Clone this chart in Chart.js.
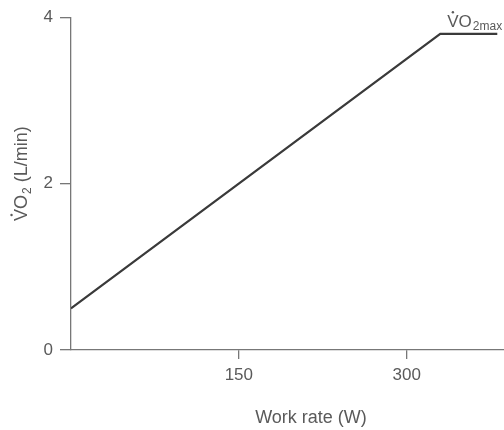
<!DOCTYPE html>
<html>
<head>
<meta charset="utf-8">
<script src="https://cdn.jsdelivr.net/npm/chart.js@4/dist/chart.umd.min.js"></script>
<style>
  html, body { margin: 0; padding: 0; background: #fff; }
  #wrap { width: 504px; height: 430px; }
</style>
</head>
<body>
<div id="wrap"><canvas id="chart"></canvas></div>
<script>
// work rate (W) vs oxygen uptake (L/min)
const workRate = [0, 330, 381];
const vo2 = [0.5, 3.8, 3.8];
const xTicks = [150, 300];
const yTicks = [0, 2, 4];

const FONT = '"Liberation Sans", Arial, Helvetica, sans-serif';
const TEXT = '#5a5a5a';
const AXIS = '#777';

// V with a dot over it, then a subscripted tail
function drawVdot(ctx, x, y, size, sub, subSize) {
    ctx.font = size + 'px ' + FONT;
    ctx.textAlign = 'left';
    ctx.textBaseline = 'alphabetic';
    const vw = ctx.measureText('V').width;
    ctx.fillText('VO', x, y);
    ctx.beginPath();
    ctx.arc(x + vw / 2, y - size * 0.86, 1.2, 0, Math.PI * 2);
    ctx.fill();
    const w = ctx.measureText('VO').width;
    ctx.font = subSize + 'px ' + FONT;
    ctx.fillText(sub, x + w + 1, y + subSize * 0.3);
    return w + 1 + ctx.measureText(sub).width;
}

const labelsPlugin = {
    id: 'labels',
    afterDraw(chart) {
        const ctx = chart.ctx;
        ctx.save();
        ctx.fillStyle = TEXT;

        // x title
        ctx.font = '18px ' + FONT;
        ctx.textAlign = 'center';
        ctx.textBaseline = 'middle';
        ctx.fillText('Work rate (W)', 311, 418);

        // y title, rotated
        ctx.save();
        ctx.translate(27, 221);
        ctx.rotate(-Math.PI / 2);
        let w = drawVdot(ctx, 0, 0, 18, '2', 12);
        ctx.font = '18px ' + FONT;
        ctx.fillText(' (L/min)', w, 0);
        ctx.restore();

        // plateau label
        const x = chart.scales.x.getPixelForValue(workRate[1]) + 7;
        const y = chart.scales.y.getPixelForValue(vo2[1]) - 7;
        drawVdot(ctx, x, y, 17, '2max', 12);
        ctx.restore();
    }
};

new Chart(document.getElementById('chart'), {
    type: 'line',
    data: {
        datasets: [{
            data: workRate.map((w, i) => ({ x: w, y: vo2[i] })),
            borderColor: '#3a3a3a',
            borderWidth: 2.2,
            pointRadius: 0,
            tension: 0
        }]
    },
    options: {
        responsive: true,
        maintainAspectRatio: false,
        animation: false,
        layout: { padding: { top: 16, right: 0, left: 0, bottom: 0 } },
        plugins: { legend: { display: false }, tooltip: { enabled: false } },
        scales: {
            x: {
                type: 'linear',
                min: 0,
                max: 387,
                afterBuildTicks: s => { s.ticks = xTicks.map(v => ({ value: v })); },
                afterFit: s => { s.height = 80; },
                border: { color: AXIS, width: 1.3 },
                grid: { drawOnChartArea: false, color: AXIS, tickLength: 9, lineWidth: 1.3 },
                ticks: { color: TEXT, font: { size: 17, family: FONT }, padding: 6, maxRotation: 0 }
            },
            y: {
                min: 0,
                max: 4,
                afterBuildTicks: s => { s.ticks = yTicks.map(v => ({ value: v })); },
                afterFit: s => { s.width = 71; },
                border: { color: AXIS, width: 1.3 },
                grid: { drawOnChartArea: false, color: AXIS, tickLength: 11, lineWidth: 1.3 },
                ticks: { color: TEXT, font: { size: 17, family: FONT }, padding: 7 }
            }
        }
    },
    plugins: [labelsPlugin]
});
</script>
</body>
</html>
